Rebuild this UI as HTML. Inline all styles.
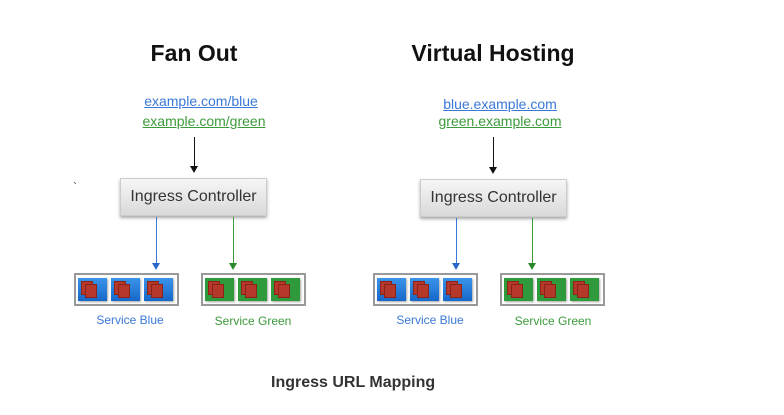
<!DOCTYPE html>
<html><head><meta charset="utf-8"><style>
*{margin:0;padding:0;box-sizing:border-box}
body{width:784px;height:415px;background:#fff;position:relative;overflow:hidden;font-family:"Liberation Sans",Arial,sans-serif}
.a{position:absolute}
.t{position:absolute;font-weight:bold;font-size:23px;color:#111;white-space:nowrap;transform:translateX(-50%)}
.l{position:absolute;font-size:14px;text-decoration:underline;white-space:nowrap;transform:translateX(-50%)}
.ctl{position:absolute;width:147px;height:38px;background:linear-gradient(#f6f6f6,#d9d9d9);border:1px solid #ccc;box-shadow:0 2px 3px rgba(0,0,0,.35);font-size:16px;color:#333;text-align:center;line-height:36px}
.v{position:absolute;width:1px}
.ah{position:absolute;width:0;height:0;border-left:4px solid transparent;border-right:4px solid transparent;border-top:7px solid}
.box{position:absolute;width:105px;height:33px;border:2px solid #999;background:#fff}
.tile{position:absolute;top:3px;width:29px;height:23px;box-shadow:1px 1px 2px rgba(0,0,0,.35)}
.b .tile{background:linear-gradient(#3a94ea,#1767c9)}
.g .tile{background:#2f9a3b}
.p1,.p2{position:absolute;width:12px;height:14px;background:#b5382a;border:1px solid #8a2418}
.p1{left:3px;top:3px}.p2{left:7px;top:6px}
.sl{position:absolute;font-size:12px;white-space:nowrap;transform:translateX(-50%)}
</style></head><body>
<div class="t" style="left:194px;top:40px">Fan Out</div>
<div class="t" style="left:493px;top:40px">Virtual Hosting</div>
<div class="l" style="left:201px;top:93px;color:#3a78d8">example.com/blue</div>
<div class="l" style="left:204px;top:113px;color:#3c9a3c">example.com/green</div>
<div class="l" style="left:500px;top:96px;color:#3a78d8">blue.example.com</div>
<div class="l" style="left:500px;top:113px;color:#3c9a3c">green.example.com</div>

<div class="v" style="left:194px;top:137px;height:30px;background:#111"></div><div class="ah" style="left:190px;top:166px;color:#111"></div>
<div class="v" style="left:493px;top:137px;height:31px;background:#111"></div><div class="ah" style="left:489px;top:167px;color:#111"></div>

<div class="ctl" style="left:120px;top:178px">Ingress Controller</div>
<div class="ctl" style="left:420px;top:179px">Ingress Controller</div>

<div class="v" style="left:156px;top:217px;height:47px;background:#3a78d8"></div><div class="ah" style="left:152px;top:263px;color:#2a66c8"></div>
<div class="v" style="left:233px;top:217px;height:47px;background:#3c9a3c"></div><div class="ah" style="left:229px;top:263px;color:#2a8a2a"></div>
<div class="v" style="left:456px;top:218px;height:46px;background:#3a78d8"></div><div class="ah" style="left:452px;top:263px;color:#2a66c8"></div>
<div class="v" style="left:532px;top:218px;height:46px;background:#3c9a3c"></div><div class="ah" style="left:528px;top:263px;color:#2a8a2a"></div>

<div class="box b" style="left:74px;top:273px"><div class="tile" style="left:2px"><div class="p1"></div><div class="p2"></div></div><div class="tile" style="left:35px"><div class="p1"></div><div class="p2"></div></div><div class="tile" style="left:68px"><div class="p1"></div><div class="p2"></div></div></div>
<div class="box g" style="left:201px;top:273px"><div class="tile" style="left:2px"><div class="p1"></div><div class="p2"></div></div><div class="tile" style="left:35px"><div class="p1"></div><div class="p2"></div></div><div class="tile" style="left:68px"><div class="p1"></div><div class="p2"></div></div></div>
<div class="box b" style="left:373px;top:273px"><div class="tile" style="left:2px"><div class="p1"></div><div class="p2"></div></div><div class="tile" style="left:35px"><div class="p1"></div><div class="p2"></div></div><div class="tile" style="left:68px"><div class="p1"></div><div class="p2"></div></div></div>
<div class="box g" style="left:500px;top:273px"><div class="tile" style="left:2px"><div class="p1"></div><div class="p2"></div></div><div class="tile" style="left:35px"><div class="p1"></div><div class="p2"></div></div><div class="tile" style="left:68px"><div class="p1"></div><div class="p2"></div></div></div>

<div class="sl" style="left:130px;top:313px;color:#3a78d8">Service Blue</div>
<div class="sl" style="left:253px;top:314px;color:#3c9a3c">Service Green</div>
<div class="sl" style="left:430px;top:313px;color:#3a78d8">Service Blue</div>
<div class="sl" style="left:553px;top:314px;color:#3c9a3c">Service Green</div>

<div class="a" style="left:73px;top:180px;font-size:12px;color:#333">`</div>
<div class="a" style="left:271px;top:374px;font-size:16px;font-weight:bold;color:#333;white-space:nowrap">Ingress URL Mapping</div>
</body></html>
